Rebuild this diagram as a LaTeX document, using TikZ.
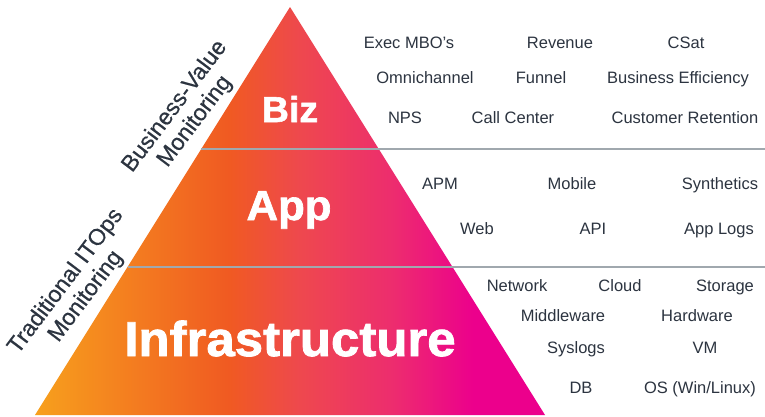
\documentclass[tikz,border=0pt]{standalone}
\usepackage{fontspec}
\newfontfamily\pyrfont{Liberation Sans}
\newfontfamily\pyrheavy{Liberation Sans Bold}[FakeBold=1.6]
\newfontfamily\pyrmedium{Liberation Sans}[FakeBold=0.5]
\definecolor{ink}{RGB}{44,52,64}
\definecolor{rule}{RGB}{160,168,174}
\definecolor{pyrA}{RGB}{247,160,29}
\definecolor{pyrB}{RGB}{240,90,34}
\definecolor{pyrC}{RGB}{238,72,78}
\definecolor{pyrD}{RGB}{237,45,110}
\definecolor{pyrE}{RGB}{236,0,140}
\pgfdeclarehorizontalshading{pyramid}{100bp}%
    {color(0bp)=(pyrA); color(25bp)=(pyrA); color(44bp)=(pyrB);
    color(51bp)=(pyrC); color(60bp)=(pyrD); color(68bp)=(pyrE); color(100bp)=(pyrE)}

\begin{document}
\begin{tikzpicture}[x=1bp, y=-1bp]
        \tikzstyle{tier}=[text=white, xscale=1.04, anchor=base, inner sep=0pt]
        \tikzstyle{item}=[text=ink, font=\pyrfont\fontsize{16.5bp}{20bp}\selectfont, anchor=base, inner sep=0pt]
        \tikzstyle{side}=[text=ink, font=\pyrmedium\fontsize{23bp}{25bp}\selectfont, align=center, rotate=53, inner sep=0pt]
        \tikzstyle{divider}=[draw=rule, line width=2bp]

        \useasboundingbox (0,0) rectangle (765,416);
        \fill [white] (0,0) rectangle (765,416);

        % pyramid and the two level lines
        \coordinate (0) at (290,7);
        \coordinate (1) at (35,415);
        \coordinate (2) at (545,415);
        \coordinate (3) at (201.3,149);
        \coordinate (4) at (765,149);
        \coordinate (5) at (127.5,267);
        \coordinate (6) at (765,267);
        \shade [shading=pyramid] (0) -- (1) -- (2) -- cycle;
        \draw [style=divider] (3) -- (4);
        \draw [style=divider] (5) -- (6);

        \node [style=tier, font=\pyrheavy\fontsize{36bp}{40bp}\selectfont] (7) at (290,122) {Biz};
        \node [style=tier, font=\pyrheavy\fontsize{42bp}{46bp}\selectfont] (8) at (289,220) {App};
        \node [style=tier, font=\pyrheavy\fontsize{49bp}{54bp}\selectfont] (9) at (290,356) {Infrastructure};

        \node [style=side] (10) at (185,114) {Business-Value\\Monitoring};
        \node [style=side] (11) at (76,289) {Traditional ITOps\\Monitoring};

        % business metrics
        \node [style=item] (12) at (409,48) {Exec MBO’s};
        \node [style=item] (13) at (560,48) {Revenue};
        \node [style=item] (14) at (686,48) {CSat};
        \node [style=item] (15) at (425,83) {Omnichannel};
        \node [style=item] (16) at (541,83) {Funnel};
        \node [style=item] (17) at (678,83) {Business Efficiency};
        \node [style=item] (18) at (405,123) {NPS};
        \node [style=item] (19) at (513,123) {Call Center};
        \node [style=item] (20) at (685,123) {Customer Retention};

        % application
        \node [style=item] (21) at (440,189) {APM};
        \node [style=item] (22) at (572,189) {Mobile};
        \node [style=item] (23) at (720,189) {Synthetics};
        \node [style=item] (24) at (477,234) {Web};
        \node [style=item] (25) at (593,234) {API};
        \node [style=item] (26) at (719,234) {App Logs};

        % infrastructure
        \node [style=item] (27) at (517,291) {Network};
        \node [style=item] (28) at (620,291) {Cloud};
        \node [style=item] (29) at (725,291) {Storage};
        \node [style=item] (30) at (563,321) {Middleware};
        \node [style=item] (31) at (697,321) {Hardware};
        \node [style=item] (32) at (576,353) {Syslogs};
        \node [style=item] (33) at (705,353) {VM};
        \node [style=item] (34) at (581,393) {DB};
        \node [style=item] (35) at (700,393) {OS (Win/Linux)};
\end{tikzpicture}
\end{document}
